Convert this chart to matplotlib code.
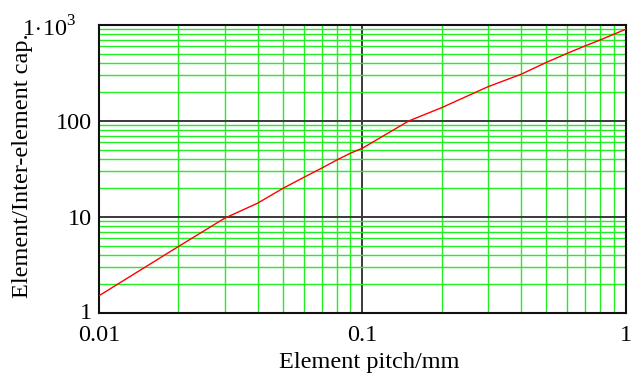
import numpy as np
import matplotlib
matplotlib.use('Agg')
from matplotlib import pyplot as plt
from matplotlib.ticker import FixedLocator, FixedFormatter, LogLocator, NullFormatter
from matplotlib.transforms import ScaledTranslation

# Element pitch (mm) vs element/inter-element capacitance ratio
pitch = [0.01, 0.02, 0.03, 0.04, 0.05, 0.06, 0.07, 0.08, 0.09, 0.1,
         0.15, 0.2, 0.3, 0.4, 0.5, 0.6, 0.7, 0.8, 0.9, 1.0]
ratio = [1.51, 4.91, 9.7, 13.9, 19.9, 25.9, 32.2, 39.2, 46.1, 52.0,
         100.0, 137.6, 227.5, 306.0, 408.0, 507.0, 604.0, 698.0, 800.0, 902.0]

xticks = [0.01, 0.1, 1]
xlabels = ['0.01', '0.1', '1']
yticks = [1, 10, 100, 1000]
ylabels = ['1', '10', '100', r'$1\!\cdot\!10^3$']

plt.rcParams['font.family'] = ['Liberation Serif', 'DejaVu Serif']
plt.rcParams['mathtext.fontset'] = 'custom'
plt.rcParams['mathtext.rm'] = 'Liberation Serif'

fig = plt.figure(figsize=(6.34, 3.76), dpi=100)
ax = fig.add_axes([0.156, 0.1676, 0.831, 0.766])
ax.set_xscale('log')
ax.set_yscale('log')
ax.set_xlim(0.01, 1)
ax.set_ylim(1, 1000)

ax.plot(pitch, ratio, color='red', lw=1.0, zorder=3)

ax.xaxis.set_major_locator(FixedLocator(xticks))
ax.xaxis.set_major_formatter(FixedFormatter(xlabels))
ax.yaxis.set_major_locator(FixedLocator(yticks))
ax.yaxis.set_major_formatter(FixedFormatter(ylabels))
ax.xaxis.set_minor_locator(LogLocator(base=10, subs=np.arange(2, 10)))
ax.yaxis.set_minor_locator(LogLocator(base=10, subs=np.arange(2, 10)))
ax.xaxis.set_minor_formatter(NullFormatter())
ax.yaxis.set_minor_formatter(NullFormatter())

ax.grid(which='minor', color='#22ee22', lw=1.0)
ax.grid(which='major', color='#3a3a3a', lw=1.4)
ax.tick_params(which='both', length=0, labelsize=17.5)
ax.tick_params(axis='x', pad=9)
ax.tick_params(axis='y', pad=5)
for s in ax.spines.values():
  s.set_linewidth(1.5)
  s.set_color('#111111')

# the 1e3 label sits further left in the original
fig.canvas.draw()
top = ax.yaxis.get_majorticklabels()[-1]
top.set_transform(top.get_transform() + ScaledTranslation(-0.15, -0.01, fig.dpi_scale_trans))
# and the "1" is nudged up a bit
bot = ax.yaxis.get_majorticklabels()[0]
bot.set_transform(bot.get_transform() + ScaledTranslation(0, 0.02, fig.dpi_scale_trans))

ax.set_xlabel('Element pitch/mm', fontsize=17.5)
ax.set_ylabel('Element/Inter-element cap.', fontsize=17.5)
ax.xaxis.set_label_coords(0.514, -0.135)
ax.yaxis.set_label_coords(-0.125, 0.512)

fig.savefig('out.png', dpi=100)
